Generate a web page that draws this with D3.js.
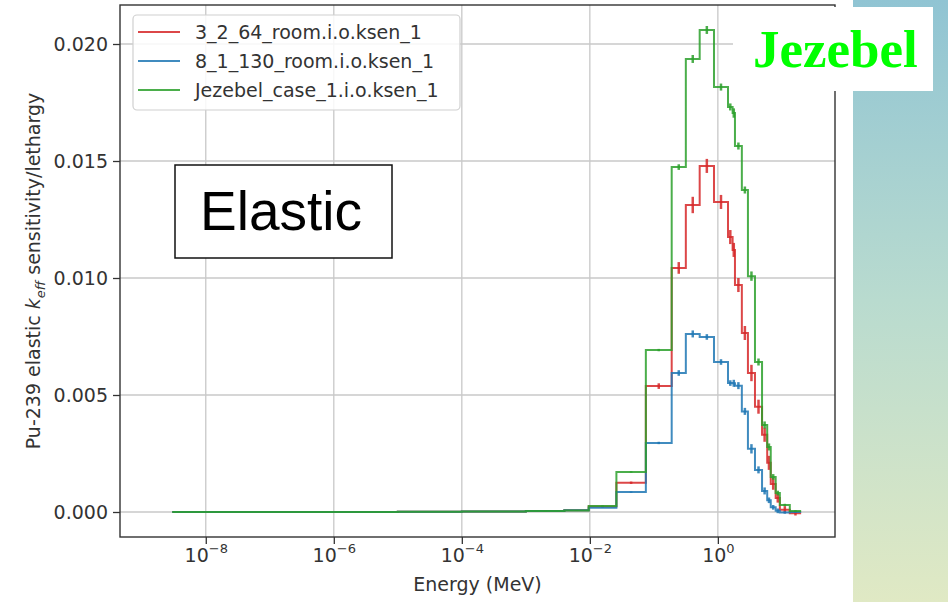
<!DOCTYPE html>
<html>
<head>
<meta charset="utf-8">
<script src="https://cdn.jsdelivr.net/npm/d3@7"></script>
<style>
body { margin: 0; background: #fff; }
svg { display: block; }
text { font-family: "DejaVu Sans", sans-serif; }
</style>
</head>
<body>
<div id="chart"></div>
<script>
//group boundaries (MeV), one more than the number of bins
var edges = [3e-9, 1e-7, 1e-5, 1e-4, 1e-3, 4e-3, 0.0096, 0.026, 0.075, 0.19, 0.316, 0.52, 0.87,
	1.44, 1.7, 1.85, 2.37, 2.95, 3.8, 4.9, 5.9, 6.7, 8.0, 9.3, 13.3, 20];

//sensitivity per lethargy for each case
var red_vals = [0, 0, 0.00001, 0.00002, 0.00004, 0.00007, 0.00024, 0.00125, 0.00538, 0.01043, 0.01312, 0.01479, 0.01325,
	0.01175, 0.0112, 0.0097, 0.00765, 0.00594, 0.0045, 0.0033, 0.0021, 0.0012, 0.0006, 0.0001, -0.00005];
var blue_vals = [0, 0, 0.00001, 0.00002, 0.00004, 0.00007, 0.00018, 0.00085, 0.00295, 0.00594, 0.00761, 0.00748, 0.00641,
	0.00551, 0.0055, 0.0054, 0.0043, 0.0027, 0.0018, 0.0009, 0.0005, 0.0002, 0.00005, -0.00002, 0];
var green_vals = [0, 0, 0.00001, 0.00002, 0.00004, 0.00006, 0.00026, 0.00171, 0.00692, 0.01474, 0.01936, 0.0206, 0.01816,
	0.01731, 0.01705, 0.01564, 0.01376, 0.01008, 0.00641, 0.00372, 0.00278, 0.0015, 0.00081, 0.0003, 0.00004];

//one sigma uncertainties
var red_err = [0, 0, 0, 0, 0.00001, 0.00001, 0.00002, 0.00005, 0.00012, 0.00025, 0.00035, 0.0003, 0.0003,
	0.0003, 0.0003, 0.0003, 0.0003, 0.00035, 0.0003, 0.0003, 0.0003, 0.00025, 0.0002, 0.00015, 0.0001];
var blue_err = [0, 0, 0, 0, 0.00001, 0.00001, 0.00001, 0.00003, 0.00005, 0.00012, 0.00015, 0.00012, 0.00012,
	0.00012, 0.00015, 0.00015, 0.00015, 0.0002, 0.00015, 0.00015, 0.00012, 0.0001, 0.0001, 0.00005, 0.00003];
var green_err = [0, 0, 0, 0, 0.00001, 0.00001, 0.00002, 0.00003, 0.00005, 0.00012, 0.00017, 0.00017, 0.00015,
	0.00015, 0.0002, 0.00015, 0.00015, 0.0002, 0.00015, 0.00015, 0.00015, 0.00012, 0.0001, 0.00005, 0.00003];

var series_names = ["3_2_64_room.i.o.ksen_1", "8_1_130_room.i.o.ksen_1", "Jezebel_case_1.i.o.ksen_1"];
var series_colors = ["#d62728", "#1f77b4", "#2ca02c"];

var x_ticks = [1e-8, 1e-6, 1e-4, 1e-2, 1];
var y_ticks = [0, 0.005, 0.010, 0.015, 0.020];

//plot area
var bb = { left: 120, right: 835, top: 5, bottom: 537 };

var svg = d3.select("#chart").append("svg").attr("width", 948).attr("height", 602);

//slide background strip on the right
var defs = svg.append("defs");
var grad = defs.append("linearGradient").attr("id", "side").attr("x1", 0).attr("y1", 0).attr("x2", 0).attr("y2", 1);
grad.append("stop").attr("offset", "0%").attr("stop-color", "#90c4d3");
grad.append("stop").attr("offset", "50%").attr("stop-color", "#b9dbcf");
grad.append("stop").attr("offset", "100%").attr("stop-color", "#e0e9c4");
svg.append("rect").attr("x", 853).attr("y", 0).attr("width", 95).attr("height", 602).attr("fill", "url(#side)");

var x = d3.scaleLog().domain([Math.pow(10, -9.34), Math.pow(10, 1.83)]).range([bb.left, bb.right]);
var y = d3.scaleLinear().domain([-(537 - 512) / 23400, (512 - 5) / 23400]).range([bb.bottom, bb.top]);

//grid
svg.append("g").selectAll("line").data(x_ticks).enter().append("line")
	.attr("x1", function(d) { return x(d); }).attr("x2", function(d) { return x(d); })
	.attr("y1", bb.top).attr("y2", bb.bottom)
	.attr("stroke", "#c8c8c8").attr("stroke-width", 1.3);
svg.append("g").selectAll("line").data(y_ticks).enter().append("line")
	.attr("y1", function(d) { return y(d); }).attr("y2", function(d) { return y(d); })
	.attr("x1", bb.left).attr("x2", bb.right)
	.attr("stroke", "#c8c8c8").attr("stroke-width", 1.3);

//axes
var gx = svg.append("g").attr("transform", "translate(0," + bb.bottom + ")")
	.call(d3.axisBottom(x).tickValues(x_ticks).tickSize(7).tickPadding(5).tickFormat(""));
gx.selectAll(".tick text").each(function(d) {
	var t = d3.select(this);
	var e = Math.round(Math.log10(d));
	t.append("tspan").text("10");
	t.append("tspan").attr("dy", -9).attr("font-size", 13).text(e < 0 ? "\u2212" + (-e) : e);
});

var gy = svg.append("g").attr("transform", "translate(" + bb.left + ",0)")
	.call(d3.axisLeft(y).tickValues(y_ticks).tickSize(7).tickPadding(5).tickFormat(d3.format(".3f")));

[gx, gy].forEach(function(g) {
	g.select(".domain").remove();
	g.selectAll(".tick line").attr("stroke", "#333").attr("stroke-width", 1.3);
	g.selectAll(".tick text").attr("font-size", 19).attr("fill", "#333")
		.style("font-family", "'DejaVu Sans', sans-serif");
});

//axis titles
svg.append("text").attr("x", (bb.left + bb.right) / 2).attr("y", 591)
	.attr("text-anchor", "middle").attr("font-size", 19).attr("fill", "#333")
	.text("Energy (MeV)");

var ylab = svg.append("text").attr("transform", "translate(40," + (bb.top + bb.bottom) / 2 + ") rotate(-90)")
	.attr("text-anchor", "middle").attr("font-size", 19).attr("fill", "#333");
ylab.append("tspan").text("Pu-239 elastic ");
ylab.append("tspan").attr("font-style", "italic").text("k");
ylab.append("tspan").attr("font-style", "italic").attr("font-size", 13).attr("dy", 5).text("eff");
ylab.append("tspan").attr("dy", -5).text(" sensitivity/lethargy");

//step histograms with error bars
var all_vals = [red_vals, blue_vals, green_vals];
var all_err = [red_err, blue_err, green_err];

var step = d3.line()
	.x(function(d) { return x(d[0]); })
	.y(function(d) { return y(d[1]); })
	.curve(d3.curveStepAfter);

all_vals.forEach(function(vals, s) {
	var pts = vals.map(function(v, i) { return [edges[i], v]; });
	pts.push([edges[edges.length - 1], vals[vals.length - 1]]);

	svg.append("path").datum(pts)
		.attr("d", step)
		.attr("fill", "none")
		.attr("stroke", series_colors[s])
		.attr("stroke-opacity", 0.85)
		.attr("stroke-width", 2);

	svg.append("g").selectAll("line").data(vals).enter().append("line")
		.attr("x1", function(d, i) { return x(Math.sqrt(edges[i] * edges[i + 1])); })
		.attr("x2", function(d, i) { return x(Math.sqrt(edges[i] * edges[i + 1])); })
		.attr("y1", function(d, i) { return y(d - all_err[s][i]); })
		.attr("y2", function(d, i) { return y(d + all_err[s][i]); })
		.attr("stroke", series_colors[s])
		.attr("stroke-opacity", 0.85)
		.attr("stroke-width", 2.5);
});

//spines
svg.append("rect").attr("x", bb.left).attr("y", bb.top)
	.attr("width", bb.right - bb.left).attr("height", bb.bottom - bb.top)
	.attr("fill", "none").attr("stroke", "#333").attr("stroke-width", 1.4);

//legend
var leg = svg.append("g");
leg.append("rect").attr("x", 133).attr("y", 15).attr("width", 327).attr("height", 95)
	.attr("rx", 4).attr("fill", "#fff").attr("fill-opacity", 0.85)
	.attr("stroke", "#d0d0d0").attr("stroke-width", 1.2);
series_names.forEach(function(name, i) {
	var ly = 32 + i * 29;
	leg.append("line").attr("x1", 138).attr("x2", 180).attr("y1", ly).attr("y2", ly)
		.attr("stroke", series_colors[i]).attr("stroke-opacity", 0.85).attr("stroke-width", 2);
	leg.append("text").attr("x", 195).attr("y", ly + 7).attr("font-size", 19).attr("fill", "#333")
		.text(name);
});

//"Elastic" box
svg.append("rect").attr("x", 175).attr("y", 165).attr("width", 217).attr("height", 93)
	.attr("fill", "#fff").attr("stroke", "#111").attr("stroke-width", 1.5);
svg.append("text").attr("x", 200).attr("y", 230)
	.style("font-family", "'Liberation Sans', Arial, sans-serif")
	.attr("font-size", 55).attr("fill", "#000").text("Elastic");

//"Jezebel" label
svg.append("rect").attr("x", 733).attr("y", 7).attr("width", 200).attr("height", 84).attr("fill", "#fff");
svg.append("text").attr("x", 753).attr("y", 67)
	.style("font-family", "'Liberation Serif', 'Times New Roman', serif")
	.attr("font-weight", "bold").attr("font-size", 53).attr("fill", "#00ff00").text("Jezebel");
</script>
</body>
</html>
